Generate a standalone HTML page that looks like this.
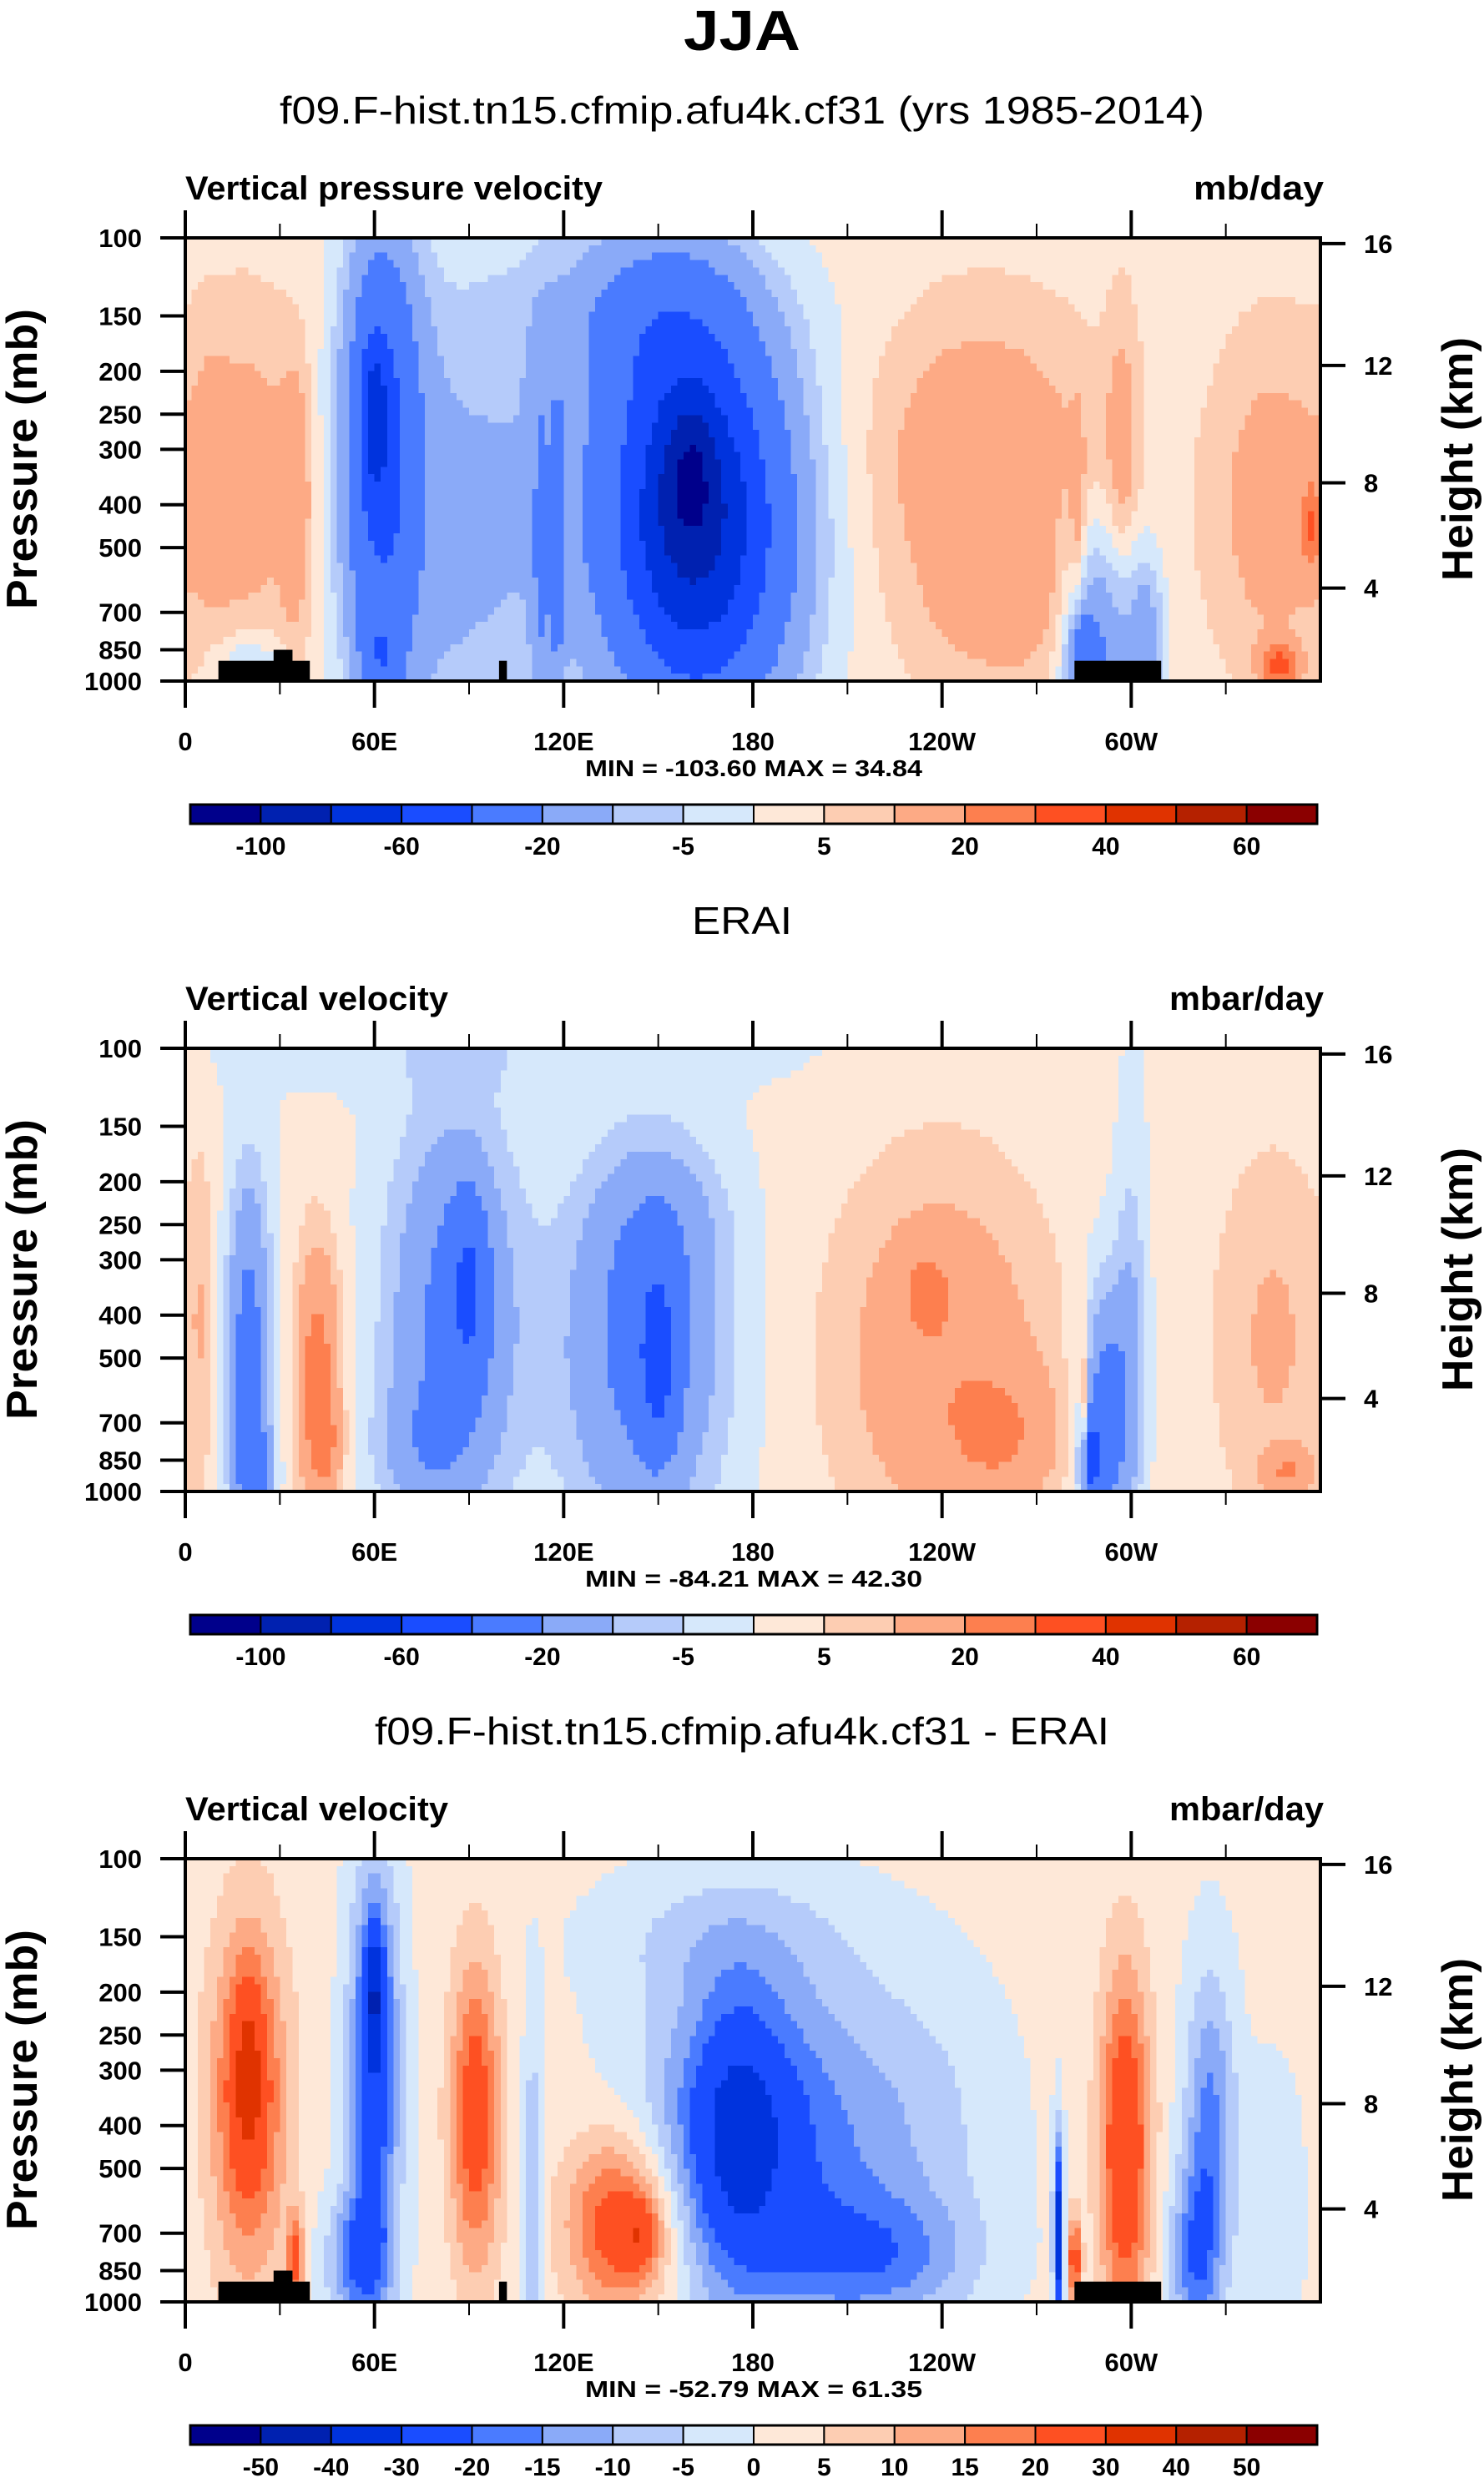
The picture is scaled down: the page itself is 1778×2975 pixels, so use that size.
<!DOCTYPE html>
<html><head><meta charset="utf-8">
<style>
body{margin:0;background:#fff;}
svg{display:block;font-family:"Liberation Sans",sans-serif;font-weight:bold;}
</style></head>
<body>
<svg id="fig" width="1778" height="2975" viewBox="0 0 1778 2975" xmlns="http://www.w3.org/2000/svg">
<text x="889" y="60" text-anchor="middle" font-size="68" textLength="140" lengthAdjust="spacingAndGlyphs">JJA</text>
</svg>
<script>
// ---- data ----
const pressureTicks=[100,150,200,250,300,400,500,700,850,1000];
const heightTicks=[16,12,8,4];
const heightTickPres=[103,194,357,617];
const lonTicks=[0,60,120,180,240,300];
const lonLabels=["0","60E","120E","180","120W","60W"];
const colors=["#00008b","#0021b0","#0033dd","#1a4dff","#4a7bff","#8aaaf8","#b5cbfa","#d6e8fb","#fee8d8","#fdcdb2","#fdaa85","#fd7f4f","#fe5022","#e03300","#b52100","#8b0000"];
const levelsA=[-100,-80,-60,-40,-20,-10,-5,0,5,10,20,30,40,50,60];
const labelsA=["-100","","-60","","-20","","-5","","5","","20","","40","","60"];
const levelsB=[-50,-40,-30,-20,-15,-10,-5,0,5,10,15,20,30,40,50];
const labelsB=["-50","-40","-30","-20","-15","-10","-5","0","5","10","15","20","30","40","50"];
// blobs: lon, pressure, lon width, depth (log frac), amplitude
const p1Lon=[20,35,8,20,62,60,62,125,150,113,118,160,170,150,160,255,250,265,283,290,285,305,297,345,357,347,80,160];
const p1Pres=[350,400,350,900,300,250,900,400,150,500,500,400,500,150,330,400,250,700,400,750,900,800,300,400,450,920,500,450];
const p1W=[16,5,6,10,12,4,6,45,50,3,2,25,30,25,8,35,30,25,2,12,5,6,5,18,3,6,25,20];
const p1D=[.35,.3,.3,.06,.5,.15,.1,.6,.2,.4,.35,.35,.45,.2,.15,.35,.25,.15,.2,.25,.1,.2,.3,.35,.1,.05,.6,.4];
const p1Amp=[12,12,6,-10,-45,-35,-20,-12,-6,-15,-20,-40,-30,-15,-25,12,5,6,10,-22,-30,-15,10,12,20,30,-10,-20];
const p2Lon=[100,20,22,42,45,85,90,75,145,150,150,240,235,260,292,287,300,285,345,350,5];
const p2Pres=[100,500,900,550,800,400,350,800,500,500,250,500,350,750,700,850,400,700,450,900,400];
const p2W=[100,7,5,7,5,20,6,15,25,6,20,35,8,18,8,3,5,1.5,20,8,4];
const p2D=[.1,.4,.1,.3,.1,.45,.2,.15,.4,.2,.2,.45,.1,.15,.3,.1,.4,.2,.45,.05,.4];
const p2Amp=[-4,-28,-20,25,10,-25,-25,-10,-25,-30,-10,16,10,12,-30,-40,-10,20,10,15,6];
const p3Lon=[20,20,35,60,60,55,92,110,140,145,180,175,220,170,230,277,298,282,325,320,345,135];
const p3Pres=[350,300,800,300,200,800,380,600,700,700,450,400,800,150,400,700,450,800,400,800,600,600];
const p3W=[12,5,3,8,3,10,8,3,18,6,35,15,30,40,30,1.5,8,2,8,8,10,15];
const p3D=[.4,.2,.1,.45,.15,.15,.35,.4,.2,.08,.4,.3,.15,.15,.35,.2,.4,.1,.35,.2,.3,.2];
const p3Amp=[24,12,20,-28,-20,-20,24,-12,20,12,-24,-15,-15,-6,-8,-40,28,25,-18,-18,-6,8];
const landLon0=[10.5,28,99.5,282], landLon1=[39.5,34,102,309.5], landTop=[900,850,900,900];

// ---- layout ----
const NS="http://www.w3.org/2000/svg";
const svg=document.getElementById('fig');
const X0=222,X1=1582,H=531;
function el(tag,attrs,parent){const e=document.createElementNS(NS,tag);for(const k in attrs)e.setAttribute(k,attrs[k]);(parent||svg).appendChild(e);return e;}
function txt(s,attrs,parent){const e=el('text',attrs,parent);e.textContent=s;return e;}
const xs=lon=>X0+lon/360*(X1-X0);
function ys(top,p){return top+Math.log10(p/100)*H;}
function field(lons,pres,ws,ds,amps,bg,lon,yf){let v=bg;for(let i=0;i<lons.length;i++){let dl=Math.abs(lon-lons[i]);if(dl>180)dl=360-dl;const dy=yf-Math.log10(pres[i]/100);v+=amps[i]*Math.exp(-((dl/ws[i])**2+(dy/ds[i])**2));}return v;}
function colorIdx(v,levels){let k=0;while(k<levels.length&&v>=levels[k])k++;return k;}

const panels=[
 {top:285,title:"f09.F-hist.tn15.cfmip.afu4k.cf31 (yrs 1985-2014)",tw:1108,left:"Vertical pressure velocity",lw:500,right:"mb/day",rw:156,minmax:"MIN = -103.60   MAX =  34.84",lon:p1Lon,pres:p1Pres,w:p1W,d:p1D,amp:p1Amp,bg:3,levels:levelsA,labels:labelsA,land:true,name:"model"},
 {top:1256,title:"ERAI",tw:120,left:"Vertical velocity",lw:315,right:"mbar/day",rw:185,minmax:"MIN = -84.21   MAX =  42.30",lon:p2Lon,pres:p2Pres,w:p2W,d:p2D,amp:p2Amp,bg:1,levels:levelsA,labels:labelsA,land:false,name:"erai"},
 {top:2227,title:"f09.F-hist.tn15.cfmip.afu4k.cf31 - ERAI",tw:880,left:"Vertical velocity",lw:315,right:"mbar/day",rw:185,minmax:"MIN = -52.79   MAX =  61.35",lon:p3Lon,pres:p3Pres,w:p3W,d:p3D,amp:p3Amp,bg:1.5,levels:levelsB,labels:labelsB,land:true,name:"difference"}
];
panels.forEach(P=>{
 const T=P.top,B=T+H;
 const g=el('g',{});
 
 
 const t1=txt(P.title,{x:889,y:T-137,'text-anchor':'middle','font-size':46,'font-weight':'normal',textLength:P.tw,lengthAdjust:'spacingAndGlyphs'},g);
 
 const t2=txt(P.left,{x:X0,y:T-46,'font-size':40,textLength:P.lw,lengthAdjust:'spacingAndGlyphs'},g);
 
 const t3=txt(P.right,{x:X1+4,y:T-46,'text-anchor':'end','font-size':40,textLength:P.rw,lengthAdjust:'spacingAndGlyphs'},g);
 
 const fg=el('g',{'shape-rendering':'crispEdges'},g);
 
 const NR=60,NC=180;
 for(let r=0;r<NR;r++){
  const yf0=r/NR,yc=(r+.5)/NR;
  let start=0,cur=-1;
  for(let c=0;c<=NC;c++){
   const k=c<NC?colorIdx(field(P.lon,P.pres,P.w,P.d,P.amp,P.bg,(c+.5)*2,yc),P.levels):-2;
   if(k!==cur){
    if(cur>=0){const rc=el('rect',{x:xs(start*2).toFixed(1),y:(T+yf0*H).toFixed(1),width:(xs(c*2)-xs(start*2)+0.6).toFixed(1),height:(H/NR+0.6).toFixed(1),fill:colors[cur]},fg);
     }
    start=c;cur=k;}
  }
 }
 if(P.land){for(let i=0;i<landLon0.length;i++){const lr=el('rect',{x:xs(landLon0[i]),y:ys(T,landTop[i]),width:xs(landLon1[i])-xs(landLon0[i]),height:B-ys(T,landTop[i]),fill:'#000'},g);
  }}
 const fr=el('rect',{x:X0,y:T,width:X1-X0,height:H,fill:'none',stroke:'#000','stroke-width':4},g);
 
 pressureTicks.forEach(p=>{const y=ys(T,p);el('line',{x1:X0-30,x2:X0,y1:y,y2:y,stroke:'#000','stroke-width':4},g);
  const l=txt(String(p),{x:X0-52,y:y+11,'text-anchor':'end','font-size':31},g);});
 heightTicks.forEach((h,i)=>{const y=ys(T,heightTickPres[i]);el('line',{x1:X1,x2:X1+30,y1:y,y2:y,stroke:'#000','stroke-width':4},g);
  const l=txt(String(h),{x:X1+52,y:y+11,'font-size':31},g);});
 const yt=txt("Pressure (mb)",{transform:`translate(44,${T+265}) rotate(-90)`,'text-anchor':'middle','font-size':52,textLength:360,lengthAdjust:'spacingAndGlyphs'},g);
 
 const yt2=txt("Height (km)",{transform:`translate(1764,${T+265}) rotate(-90)`,'text-anchor':'middle','font-size':52,textLength:292,lengthAdjust:'spacingAndGlyphs'},g);
 
 for(let lon=0;lon<=330;lon+=30){const major=lon%60===0;const x=xs(lon);
  el('line',{x1:x,x2:x,y1:B,y2:B+(major?32:16),stroke:'#000','stroke-width':major?4:2},g);
  el('line',{x1:x,x2:x,y1:T,y2:T-(major?33:17),stroke:'#000','stroke-width':major?4:2},g);}
 lonTicks.forEach((lon,i)=>{const l=txt(lonLabels[i],{x:xs(lon),y:B+83,'text-anchor':'middle','font-size':31},g);});
 const mm=txt(P.minmax,{x:903,y:B+114,'text-anchor':'middle','font-size':28,textLength:404,lengthAdjust:'spacingAndGlyphs'},g);
 
 const cb=el('g',{},g);
 const cx0=228,cx1=1578,cw=(cx1-cx0)/16,cy=B+148;
 colors.forEach((c,i)=>{const r=el('rect',{x:cx0+i*cw,y:cy,width:cw,height:23,fill:c,stroke:'#000','stroke-width':2},cb);});
 el('rect',{x:cx0,y:cy,width:cx1-cx0,height:23,fill:'none',stroke:'#000','stroke-width':3},cb);
 P.labels.forEach((s,i)=>{if(!s)return;const l=txt(s,{x:cx0+(i+1)*cw,y:cy+60,'text-anchor':'middle','font-size':30},cb);});
});
</script>
</body></html>
